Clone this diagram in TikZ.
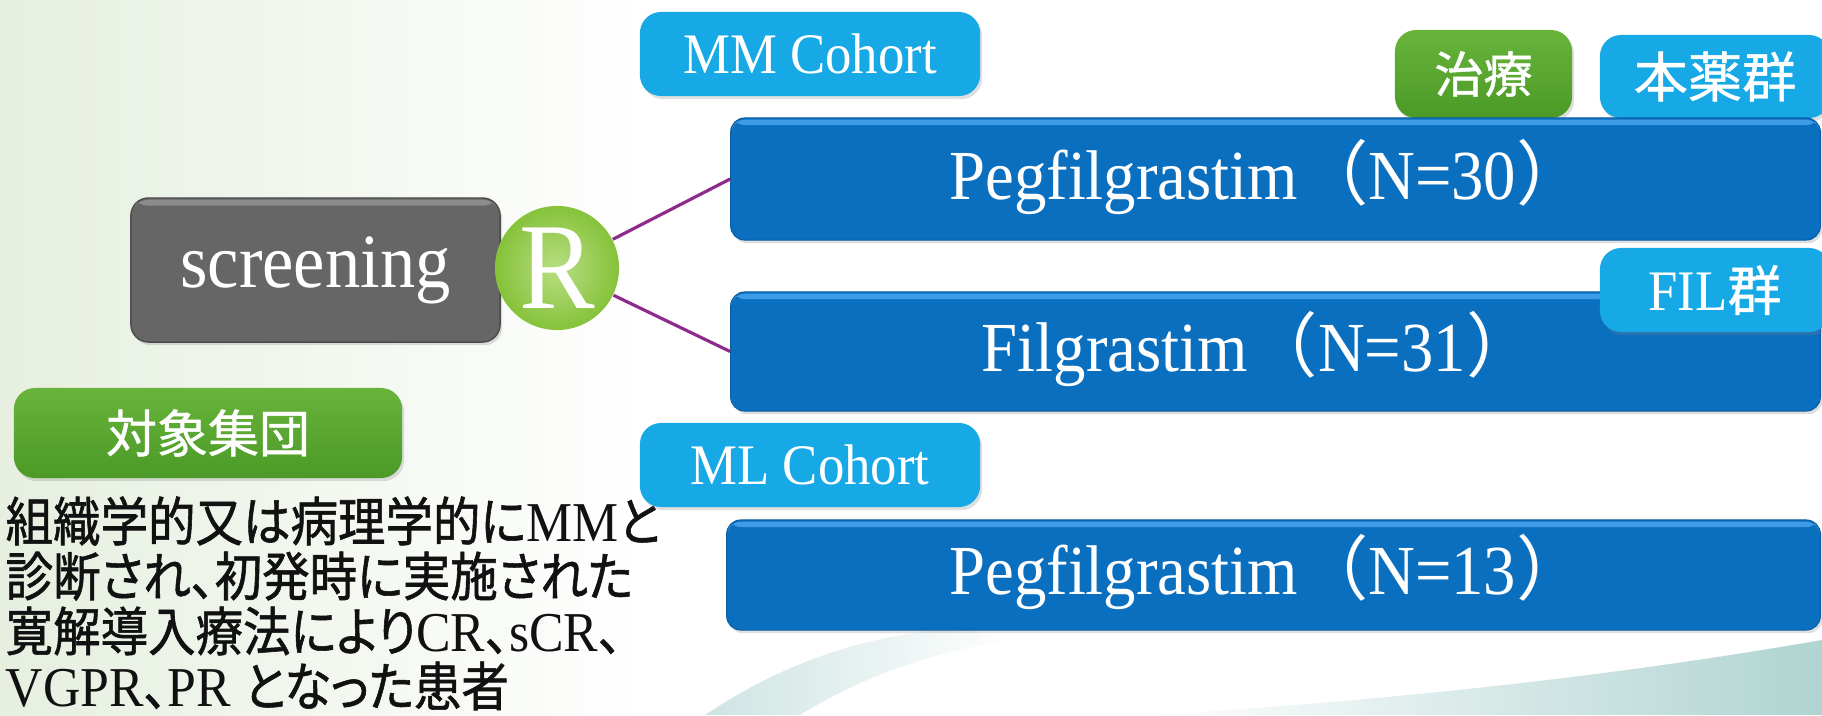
\documentclass[tikz,border=0pt]{standalone}
\usepackage{fontspec}
\setmainfont{Liberation Serif}[FakeStretch=0.92]
\newfontfamily\jp{Noto Sans CJK JP}
\newfontfamily\jpm{Noto Sans CJK JP}[FakeBold=0.8]
\newfontfamily\jpb{Noto Sans CJK JP}[FakeStretch=0.9,FakeBold=1.1,RawFeature=+palt]
\usetikzlibrary{shadows}
\definecolor{barblue}{HTML}{0B6FC0}
\definecolor{barhi}{HTML}{3E9CE6}
\definecolor{cyanbox}{HTML}{16A9E6}
\definecolor{grntop}{HTML}{68B43B}
\definecolor{grnbot}{HTML}{4B9A27}
\definecolor{grybox}{HTML}{666666}
\definecolor{gryhi}{HTML}{8C8C8C}
\definecolor{rgreen}{HTML}{86C23A}
\definecolor{rgreenhi}{HTML}{B9DE84}
\definecolor{purp}{HTML}{8E2A8A}
\definecolor{bgleft}{HTML}{E6EFE0}
\definecolor{swoosh}{HTML}{A8D0CD}
\definecolor{bodytext}{HTML}{111111}
\begin{document}
\begin{tikzpicture}[x=0.01cm,y=-0.01cm,
  shadowed/.style={drop shadow={opacity=0.25,shadow xshift=0.6pt,shadow yshift=-0.9pt}},
  bar/.style={rectangle,rounded corners=4pt,fill=barblue,draw=barblue!85!black,line width=0.3pt,inner sep=0pt,shadowed,
    path picture={\fill[barhi] ([yshift=-0.5pt]path picture bounding box.north west) rectangle ([yshift=-2pt]path picture bounding box.north east);}},
  bartext/.style={text=white,font=\fontsize{20}{22}\selectfont,inner sep=0pt},
  cbox/.style={rectangle,rounded corners=6pt,fill=cyanbox,text=white,inner sep=0pt,shadowed},
  gbox/.style={rectangle,rounded corners=6pt,top color=grntop,bottom color=grnbot,text=white,inner sep=0pt,shadowed},
  graybox/.style={rectangle,rounded corners=5pt,fill=grybox,draw=grybox!75!black,line width=0.4pt,text=white,inner sep=0pt,shadowed,
    path picture={\fill[gryhi] ([yshift=-0.5pt]path picture bounding box.north west) rectangle ([yshift=-2.2pt]path picture bounding box.north east);}},
  rball/.style={circle,inner sep=0pt,minimum size=1.24cm,inner color=rgreenhi,outer color=rgreen,text=white},
  conn/.style={draw=purp,line width=0.9pt},
  body/.style={text=bodytext,font=\fontsize{16}{18}\selectfont,inner sep=0pt}]
\useasboundingbox (0,0) rectangle (1822,715);
% background
\fill[white] (0,0) rectangle (1822,715);
\shade[left color=bgleft,right color=white] (0,0) rectangle (650,715);
\shade[left color=swoosh!70,right color=white,opacity=0.8] (705,715) .. controls (780,665) and (860,635) .. (960,628) -- (1010,640) .. controls (910,655) and (840,690) .. (800,715) -- cycle;
\shade[left color=white,right color=swoosh,opacity=0.9] (1150,715) .. controls (1400,700) and (1620,675) .. (1822,640) -- (1822,715) -- cycle;
% left part
\node[graybox,minimum width=3.69cm,minimum height=1.44cm,font=\fontsize{21.8}{23}\selectfont] (scr) at (315.5,270) {screening};
\node[rball,font=\fontsize{35}{35}\selectfont] (R) at (557,268) {R};
\node[gbox,minimum width=3.88cm,minimum height=0.9cm,font=\jpm\fontsize{14.5}{16}\selectfont] (tg) at (208,433) {対象集団};
\node[body,anchor=base west] (t1) at (5,541) {{\jpb\fontsize{15}{18}\selectfont 組織学的又は病理学的に}MM{\jpb\fontsize{15}{18}\selectfont と}};
\node[body,anchor=base west] (t2) at (5,596) {{\jpb\fontsize{15}{18}\selectfont 診断され、初発時に実施された}};
\node[body,anchor=base west] (t3) at (5,651) {{\jpb\fontsize{15}{18}\selectfont 寛解導入療法により}CR{\jpb\fontsize{15}{18}\selectfont 、}sCR{\jpb\fontsize{15}{18}\selectfont 、}};
\node[body,anchor=base west] (t4) at (5,706) {VGPR{\jpb\fontsize{15}{18}\selectfont 、}PR {\jpb\fontsize{15}{18}\selectfont となった患者}};
% cohort labels
\node[cbox,minimum width=3.4cm,minimum height=0.84cm,font=\fontsize{16.3}{18}\selectfont] (mm) at (810,54) {MM Cohort};
\node[cbox,minimum width=3.4cm,minimum height=0.84cm,font=\fontsize{16.3}{18}\selectfont] (ml) at (810,465) {ML Cohort};
\node[gbox,minimum width=1.77cm,minimum height=0.88cm,font=\jpm\fontsize{14}{16}\selectfont] (tr) at (1483.5,74) {治療};
\node[cbox,minimum width=2.3cm,minimum height=0.83cm,font=\jpm\fontsize{15.4}{17}\selectfont] (hy) at (1715,76.5) {本薬群};
% bars
\node[bar,minimum width=10.89cm,minimum height=1.22cm] (b1) at (1275.5,179) {};
\node[bartext] (b1t) at (1268,177) {Pegfilgrastim{\jp （}N=30{\jp ）}};
\node[bar,minimum width=10.89cm,minimum height=1.19cm] (b2) at (1275.5,351.5) {};
\node[bartext] (b2t) at (1259,349) {Filgrastim{\jp （}N=31{\jp ）}};
\node[bar,minimum width=10.93cm,minimum height=1.10cm] (b3) at (1273.5,575) {};
\node[bartext] (b3t) at (1268,572) {Pegfilgrastim{\jp （}N=13{\jp ）}};
\node[cbox,minimum width=2.3cm,minimum height=0.84cm,font=\fontsize{16.3}{18}\selectfont] (fil) at (1715,290) {FIL{\jpm\fontsize{15.4}{17}\selectfont 群}};
% connectors
\draw[conn] (R) -- (b1.west);
\draw[conn] (R) -- (b2.west);
\end{tikzpicture}
\end{document}
